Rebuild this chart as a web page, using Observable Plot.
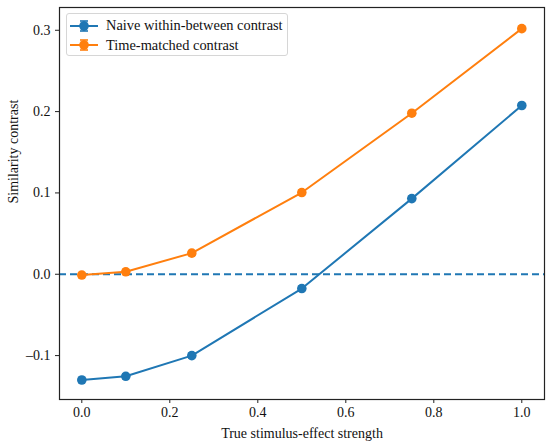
<!DOCTYPE html>
<html>
<head>
<meta charset="utf-8">
<script src="https://cdn.jsdelivr.net/npm/d3@7"></script>
<script src="https://cdn.jsdelivr.net/npm/@observablehq/plot@0.6"></script>
<style>
  body { margin: 0; background: #fff; font-family: "Liberation Serif", "DejaVu Serif", serif; }
  #wrap { position: relative; width: 550px; height: 447px; }
  #legend { position: absolute; left: 66px; top: 13px; width: 222px; height: 43px;
    border: 1px solid #d6d6d6; border-radius: 3px; background: rgba(255,255,255,0.8);
    font-size: 14.4px; color: #111; box-sizing: border-box; }
  .row { position: absolute; left: 3px; height: 20px; display: flex; align-items: center; }
  .row span { margin-left: 8px; }
</style>
</head>
<body>
<div id="wrap"></div>
<script>
const strengths = [0, 0.1, 0.25, 0.5, 0.75, 1.0];
const naiveValues = [-0.130, -0.1255, -0.100, -0.0176, 0.093, 0.2075];
const naiveErrors = [0.003, 0.003, 0.003, 0.003, 0.003, 0.003];
const matchedValues = [-0.001, 0.003, 0.026, 0.1005, 0.198, 0.302];
const matchedErrors = [0.003, 0.003, 0.003, 0.003, 0.003, 0.003];
const seriesNames = ["Naive within-between contrast", "Time-matched contrast"];
const seriesColors = ["#1f77b4", "#ff7f0e"];
const xTicks = [0, 0.2, 0.4, 0.6, 0.8, 1.0];
const yTicks = [-0.1, 0, 0.1, 0.2, 0.3];

const rows = [];
strengths.forEach((s, i) => {
  rows.push({series: seriesNames[0], x: s, y: naiveValues[i], e: naiveErrors[i]});
});
strengths.forEach((s, i) => {
  rows.push({series: seriesNames[1], x: s, y: matchedValues[i], e: matchedErrors[i]});
});
const cap = 0.007;
const fs = 14;

const chart = Plot.plot({
  width: 550,
  height: 447,
  marginLeft: 59,
  marginRight: 6,
  marginTop: 7,
  marginBottom: 48,
  style: {fontFamily: "'Liberation Serif', 'DejaVu Serif', serif", color: "#111", background: "#fff"},
  x: {domain: [-0.0507, 1.0516]},
  y: {domain: [-0.154, 0.328]},
  color: {domain: seriesNames, range: seriesColors},
  marks: [
    Plot.axisX({ticks: xTicks, tickFormat: d3.format(".1f"), tickSize: 4, tickPadding: 4, fontSize: fs,
      label: null, stroke: "#222"}),
    Plot.axisY({ticks: yTicks, tickFormat: d => d === 0 ? "0.0" : (d < 0 ? "\u2013" + Math.abs(d).toFixed(1) : d.toFixed(1)),
      tickSize: 4, tickPadding: 5, fontSize: fs, label: null, stroke: "#222"}),
    Plot.text(["True stimulus-effect strength"], {frameAnchor: "bottom", dy: 38, text: d => d, fontSize: fs, fill: "#111"}),
    Plot.text(["Similarity contrast"], {frameAnchor: "left", dx: -46, rotate: -90, text: d => d, fontSize: fs, fill: "#111"}),
    Plot.ruleY([0], {stroke: seriesColors[0], strokeWidth: 2, strokeDasharray: "7,4"}),
    Plot.line(rows, {x: "x", y: "y", z: "series", stroke: "series", strokeWidth: 2}),
    Plot.ruleX(rows, {x: "x", y1: d => d.y - d.e, y2: d => d.y + d.e, stroke: "series", strokeWidth: 1.6}),
    Plot.ruleY(rows, {y: d => d.y - d.e, x1: d => d.x - cap, x2: d => d.x + cap, stroke: "series", strokeWidth: 1.6}),
    Plot.ruleY(rows, {y: d => d.y + d.e, x1: d => d.x - cap, x2: d => d.x + cap, stroke: "series", strokeWidth: 1.6}),
    Plot.dot(rows, {x: "x", y: "y", fill: "series", r: 4.8}),
    Plot.frame({stroke: "#222", strokeWidth: 1.2})
  ]
});
const wrap = document.getElementById("wrap");
wrap.appendChild(chart);

const legend = document.createElement("div");
legend.id = "legend";
seriesNames.forEach((name, i) => {
  const c = seriesColors[i];
  const row = document.createElement("div");
  row.className = "row";
  row.style.top = (i === 0 ? 1.5 : 21) + "px";
  row.innerHTML = `<svg width="28" height="20"><line x1="0" x2="28" y1="10" y2="10" stroke="${c}" stroke-width="2"/>`
    + `<line x1="14" x2="14" y1="5" y2="15" stroke="${c}" stroke-width="1.6"/>`
    + `<line x1="10" x2="18" y1="5" y2="5" stroke="${c}" stroke-width="1.6"/>`
    + `<line x1="10" x2="18" y1="15" y2="15" stroke="${c}" stroke-width="1.6"/>`
    + `<circle cx="14" cy="10" r="4.8" fill="${c}"/></svg><span>${name}</span>`;
  legend.appendChild(row);
});
wrap.appendChild(legend);
</script>
</body>
</html>
